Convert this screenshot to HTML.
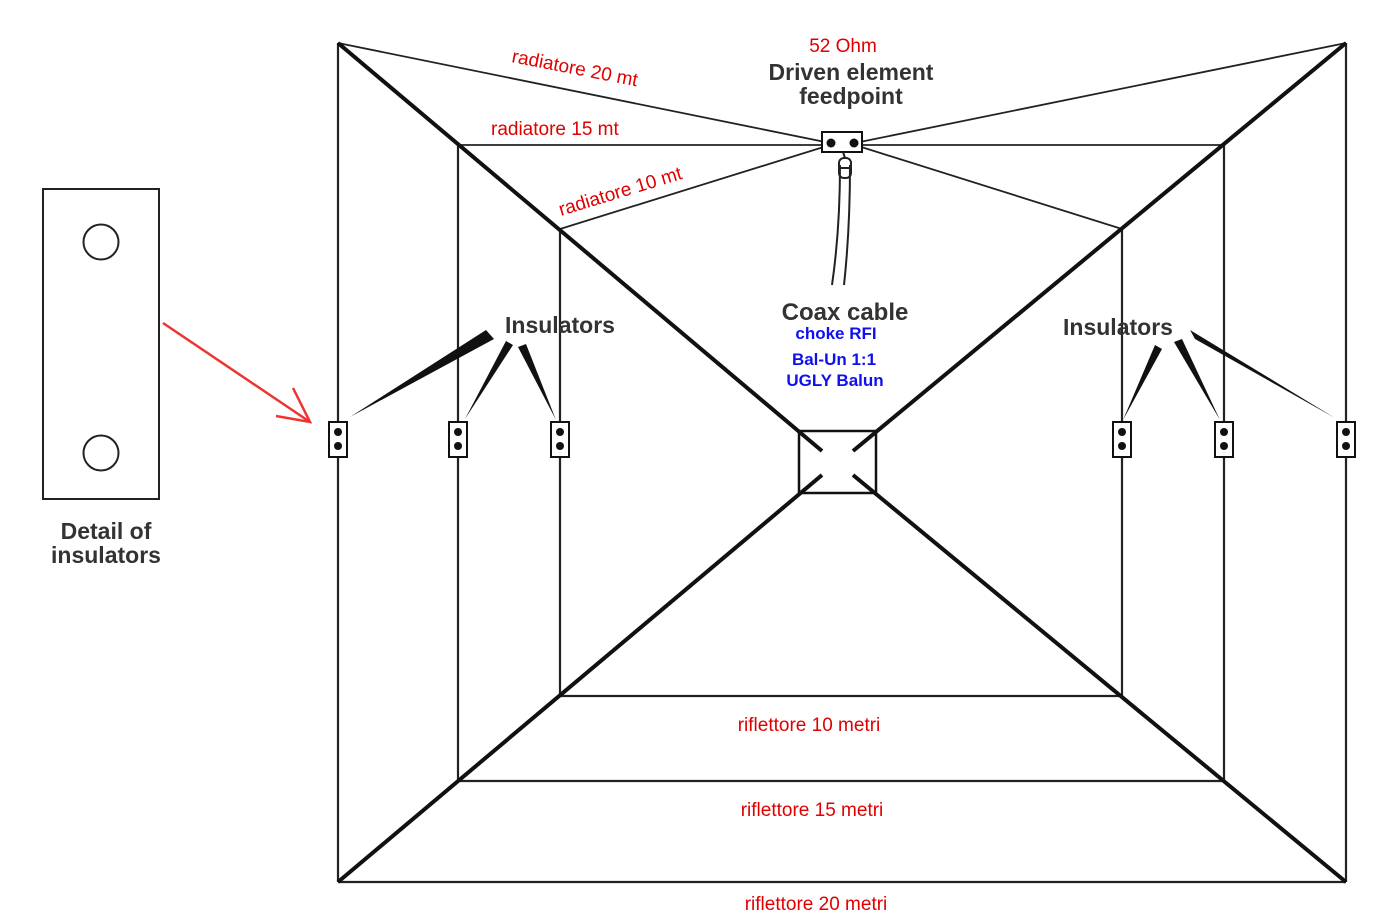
<!DOCTYPE html>
<html><head><meta charset="utf-8"><style>
html,body{margin:0;padding:0;background:#fff;}
svg{display:block;}
text{font-family:"Liberation Sans",sans-serif;}
</style></head><body>
<svg width="1400" height="918" viewBox="0 0 1400 918" xmlns="http://www.w3.org/2000/svg">
<g stroke="#222" fill="none" stroke-width="2.2">
<line x1="338" y1="43" x2="338" y2="422"/><line x1="338" y1="457" x2="338" y2="882"/>
<line x1="1346" y1="43" x2="1346" y2="422"/><line x1="1346" y1="457" x2="1346" y2="882"/>
<line x1="338" y1="882" x2="1346" y2="882"/>
<line x1="458" y1="145" x2="458" y2="422"/><line x1="458" y1="457" x2="458" y2="781"/>
<line x1="1224" y1="145" x2="1224" y2="422"/><line x1="1224" y1="457" x2="1224" y2="781"/>
<line x1="458" y1="781" x2="1224" y2="781"/>
<line x1="560" y1="229" x2="560" y2="422"/><line x1="560" y1="457" x2="560" y2="696"/>
<line x1="1122" y1="229" x2="1122" y2="422"/><line x1="1122" y1="457" x2="1122" y2="696"/>
<line x1="560" y1="696" x2="1122" y2="696"/>
<line x1="338" y1="43" x2="830" y2="143" stroke-width="1.8"/>
<line x1="458" y1="145" x2="830" y2="145" stroke-width="1.8"/>
<line x1="560" y1="229" x2="830" y2="145" stroke-width="1.8"/>
<line x1="1346" y1="43" x2="855" y2="143" stroke-width="1.8"/>
<line x1="1224" y1="145" x2="855" y2="145" stroke-width="1.8"/>
<line x1="1122" y1="229" x2="855" y2="145" stroke-width="1.8"/>
</g>
<g stroke="#111" stroke-width="4">
<line x1="338" y1="43" x2="822" y2="451"/>
<line x1="1346" y1="43" x2="853" y2="451"/>
<line x1="338" y1="882" x2="822" y2="475"/>
<line x1="1346" y1="882" x2="853" y2="475"/>
</g>
<rect x="799" y="431" width="77" height="62" fill="none" stroke="#111" stroke-width="2.5"/>
<rect x="822" y="132" width="40" height="20" fill="#fff" stroke="#111" stroke-width="2"/>
<circle cx="831" cy="143" r="4.5" fill="#111"/><circle cx="854" cy="143" r="4.5" fill="#111"/>
<g stroke="#222" stroke-width="2" fill="none">
<path d="M840 165 Q840 230 832 285"/><path d="M850 165 Q850 230 844 285"/>
<rect x="839" y="158" width="12" height="20" rx="5"/>
<path d="M839 168 h12 M843 152 L845 158"/>
</g>
<g stroke="#111" stroke-width="2" fill="#fff">
<rect x="329" y="422" width="18" height="35"/><rect x="449" y="422" width="18" height="35"/><rect x="551" y="422" width="18" height="35"/>
<rect x="1113" y="422" width="18" height="35"/><rect x="1215" y="422" width="18" height="35"/><rect x="1337" y="422" width="18" height="35"/>
</g>
<g fill="#111">
<circle cx="338" cy="432" r="4"/><circle cx="338" cy="446" r="4"/>
<circle cx="458" cy="432" r="4"/><circle cx="458" cy="446" r="4"/>
<circle cx="560" cy="432" r="4"/><circle cx="560" cy="446" r="4"/>
<circle cx="1122" cy="432" r="4"/><circle cx="1122" cy="446" r="4"/>
<circle cx="1224" cy="432" r="4"/><circle cx="1224" cy="446" r="4"/>
<circle cx="1346" cy="432" r="4"/><circle cx="1346" cy="446" r="4"/>
<polygon points="486,330 494,339 350,417"/>
<polygon points="506,341 513,345 465,419"/>
<polygon points="518,347 526,344 556,420"/>
<polygon points="1155,345 1162,349 1123,420"/>
<polygon points="1174,342 1182,339 1220,420"/>
<polygon points="1190,330 1195,339 1335,418"/>
</g>
<rect x="43" y="189" width="116" height="310" fill="none" stroke="#222" stroke-width="2"/>
<circle cx="101" cy="242" r="17.5" fill="none" stroke="#222" stroke-width="2"/>
<circle cx="101" cy="453" r="17.5" fill="none" stroke="#222" stroke-width="2"/>
<g stroke="#ee3333" stroke-width="2.5" fill="none">
<line x1="163" y1="323" x2="310" y2="422"/>
<polyline points="293,388 310,422 276,416"/>
</g>
<g fill="#333" font-weight="bold" text-anchor="middle">
<text x="851" y="80" font-size="23">Driven element</text>
<text x="851" y="104" font-size="23">feedpoint</text>
<text x="845" y="320" font-size="24">Coax cable</text>
<text x="560" y="333" font-size="23">Insulators</text>
<text x="1118" y="335" font-size="23">Insulators</text>
<text x="106" y="539" font-size="23">Detail of</text>
<text x="106" y="563" font-size="23">insulators</text>
</g>
<g fill="#e00000" font-size="19">
<text x="843" y="52" text-anchor="middle">52 Ohm</text>
<text x="511" y="62" transform="rotate(11 511 62)" font-size="19">radiatore  20 mt</text>
<text x="491" y="135">radiatore  15 mt</text>
<text x="561" y="216" transform="rotate(-17 561 216)">radiatore  10 mt</text>
<text x="809" y="731" text-anchor="middle">riflettore 10 metri</text>
<text x="812" y="816" text-anchor="middle">riflettore 15 metri</text>
<text x="816" y="910" text-anchor="middle">riflettore 20 metri</text>
</g>
<g fill="#1010ee" font-size="17" font-weight="bold" text-anchor="middle">
<text x="836" y="339">choke RFI</text>
<text x="834" y="365">Bal-Un 1:1</text>
<text x="835" y="386">UGLY Balun</text>
</g>
</svg>
</body></html>
